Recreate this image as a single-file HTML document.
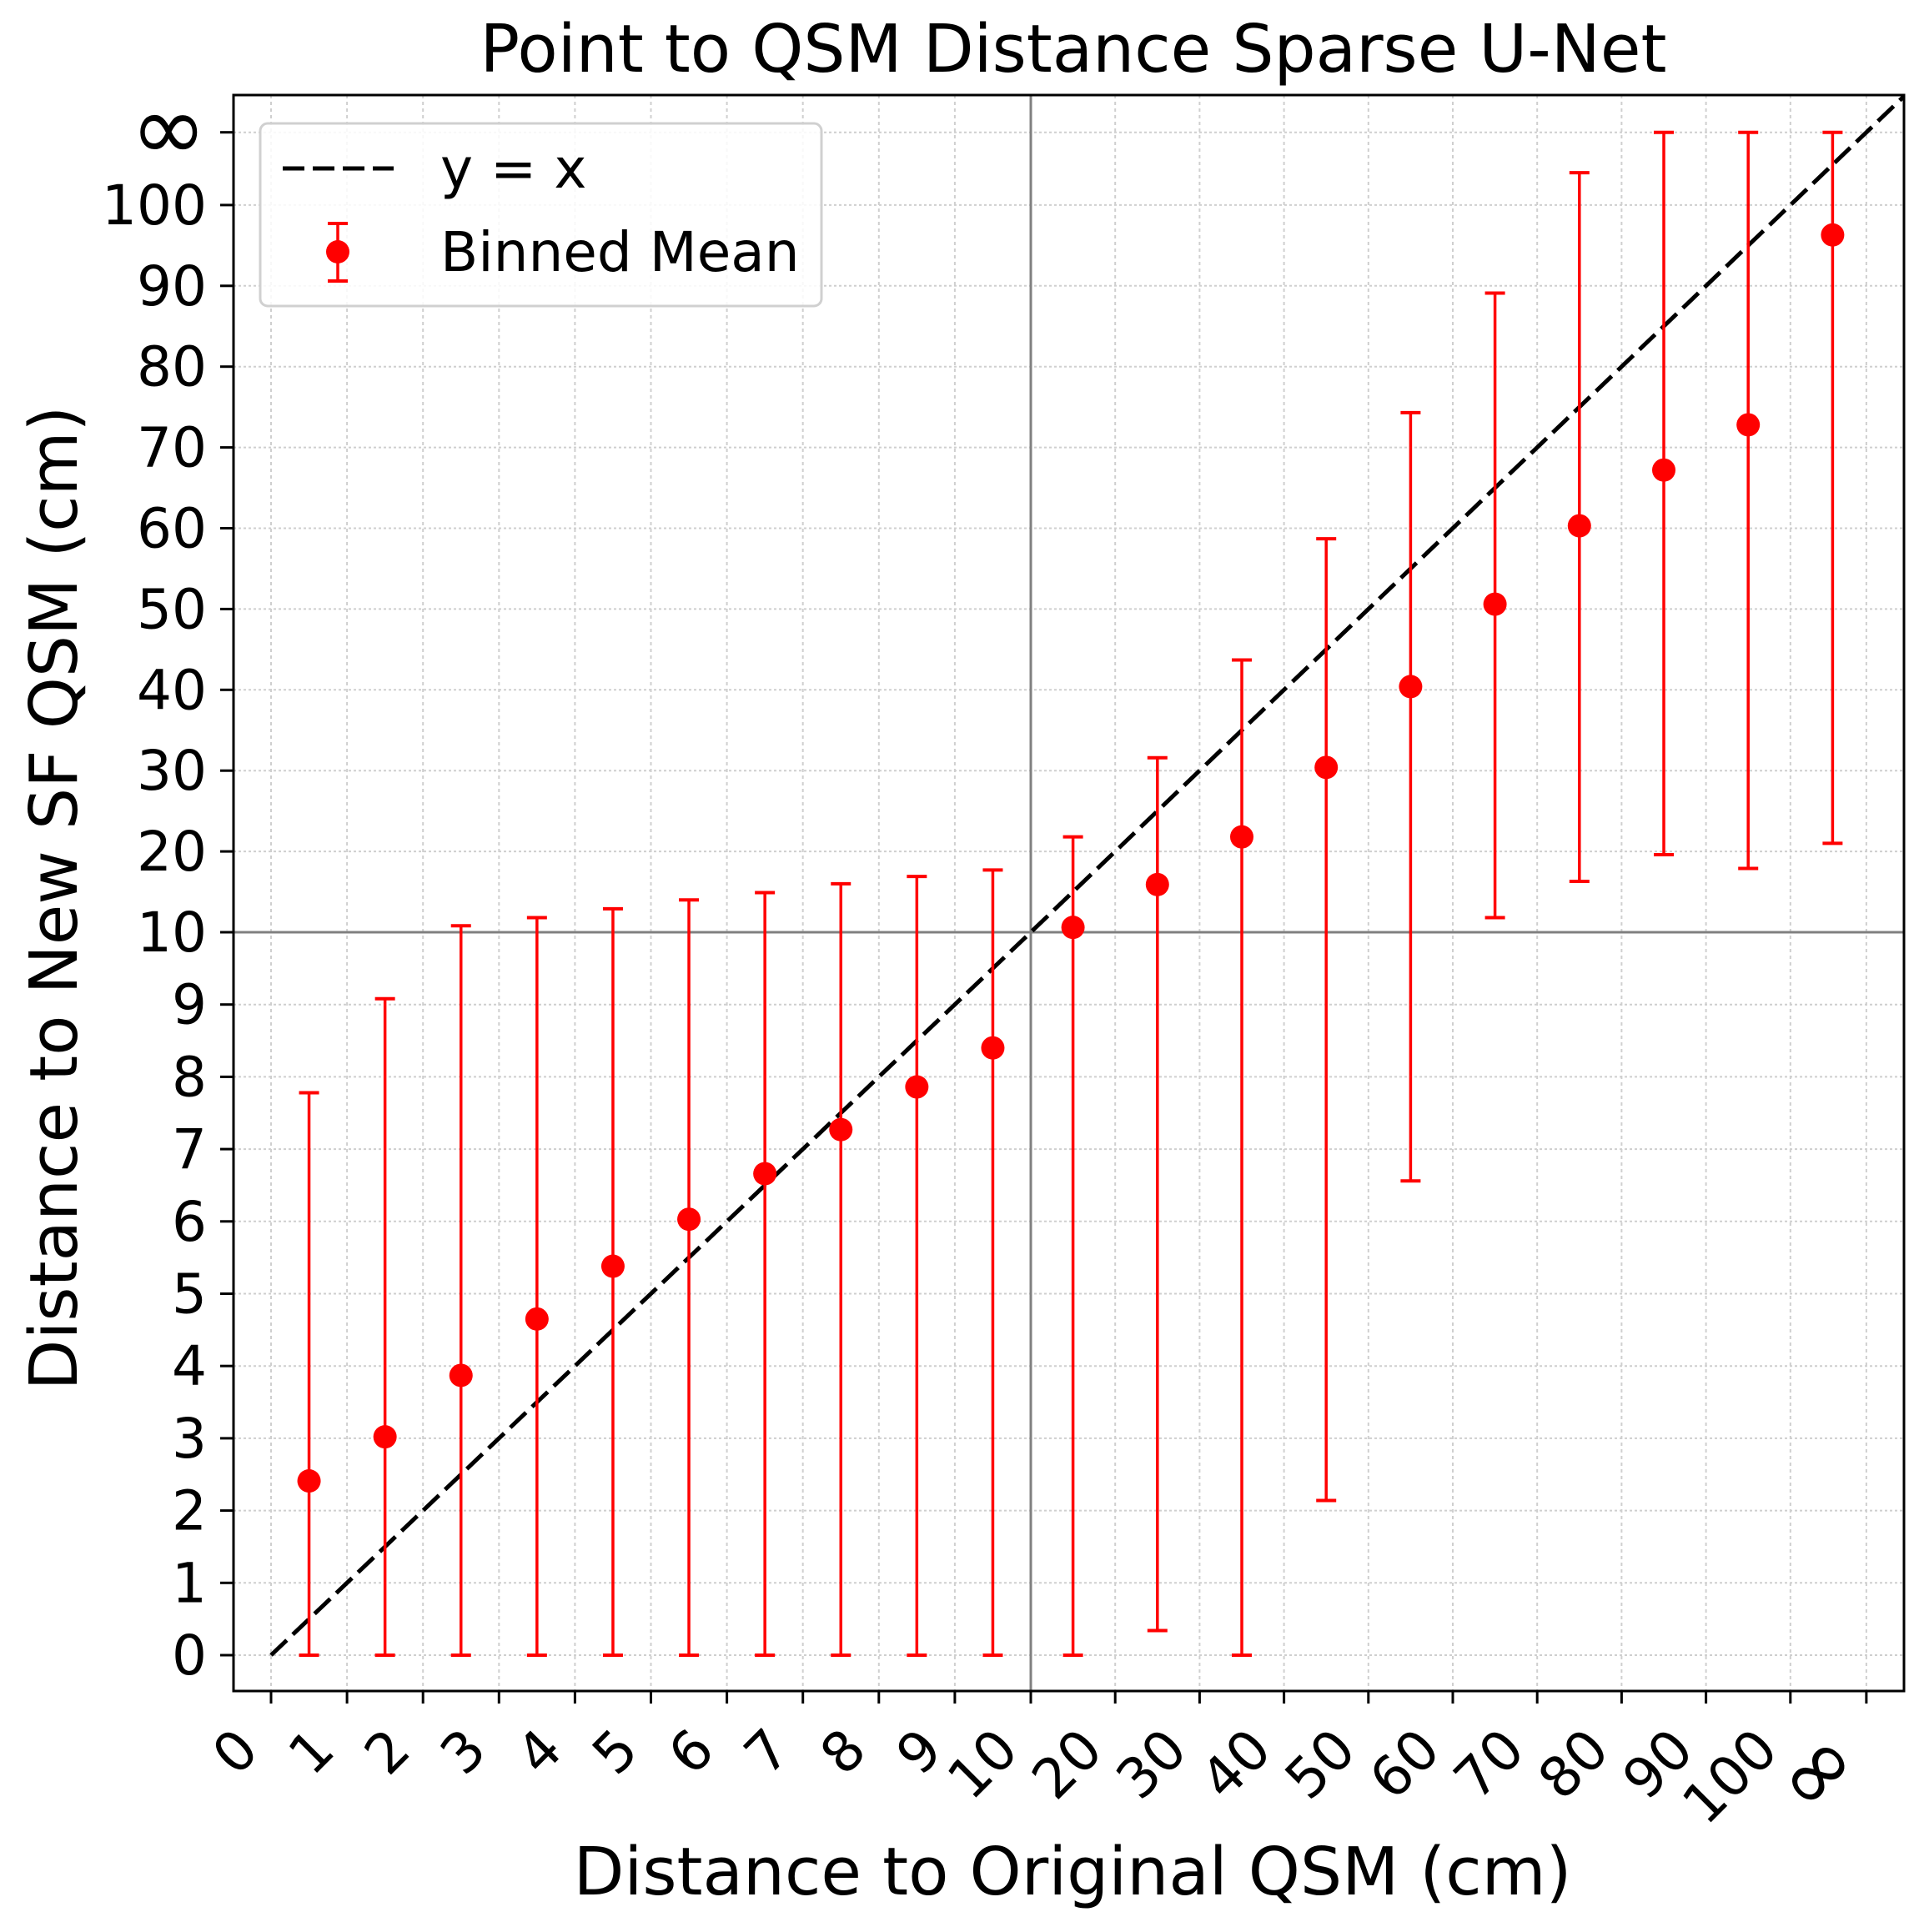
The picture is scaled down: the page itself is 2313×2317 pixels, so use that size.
<!DOCTYPE html>
<html><head><meta charset="utf-8"><style>
html,body{margin:0;padding:0;background:#fff;}
svg{display:block;font-family:"DejaVu Sans","Liberation Sans",sans-serif;}
</style></head><body>
<svg id="chart" width="2313" height="2317" viewBox="0 0 2313 2317" xmlns="http://www.w3.org/2000/svg">
<defs><clipPath id="plotclip"><rect x="280" y="114" width="2003" height="1914"/></clipPath></defs>
<rect width="2313" height="2317" fill="#fff"/>
<g id="grid"></g>
<g id="refs"></g>
<g id="marks" clip-path="url(#plotclip)"></g>
<rect x="280" y="114" width="2003" height="1914" fill="none" stroke="#000" stroke-width="3"/>
<g id="xticks"></g>
<g id="yticks"></g>
<text x="1287" y="86" font-size="79" text-anchor="middle">Point to QSM Distance Sparse U-Net</text>
<text x="1286" y="2272" font-size="79" text-anchor="middle">Distance to Original QSM (cm)</text>
<text x="0" y="0" font-size="79" text-anchor="middle" transform="translate(92,1077) rotate(-90)">Distance to New SF QSM (cm)</text>
<g>
<rect x="312" y="148" width="673" height="219" rx="9" fill="#fff" fill-opacity="0.85" stroke="#d0d0d0" stroke-width="3"/>
<line x1="339" y1="202" x2="472" y2="202" stroke="#000" stroke-width="5" stroke-dasharray="26,10"/>
<text x="528" y="225" font-size="66">y = x</text>
<g>
<line x1="405" y1="268" x2="405" y2="337" stroke="#f00" stroke-width="3.5"/>
<line x1="393" y1="268" x2="417" y2="268" stroke="#f00" stroke-width="4"/>
<line x1="393" y1="337" x2="417" y2="337" stroke="#f00" stroke-width="4"/>
<circle cx="405" cy="302" r="14" fill="#f00"/>
</g>
<text x="528" y="325" font-size="66">Binned Mean</text>
</g>
</svg>
<script>
const xCenters = [0.5,1.5,2.5,3.5,4.5,5.5,6.5,7.5,8.5,9.5,15,25,35,45,55,65,75,85,95,105];
const meanValues = [2.41,3.02,3.87,4.65,5.38,6.03,6.66,7.27,7.86,8.40,10.6,15.9,21.8,30.4,40.4,50.6,60.3,67.2,72.8,96.3];
const upperValues = [7.78,9.08,10.8,11.8,12.9,14.0,14.9,16.0,16.9,17.7,21.8,31.6,43.7,58.7,74.3,89.1,104,109,109,109];
const lowerValues = [0,0,0,0,0,0,0,0,0,0,0,0.34,0,2.14,6.56,11.8,16.3,19.6,17.9,21.0];
const tickValues = [0,1,2,3,4,5,6,7,8,9,10,20,30,40,50,60,70,80,90,100,109];
const tickLabels = ['0','1','2','3','4','5','6','7','8','9','10','20','30','40','50','60','70','80','90','100','∞'];
const identityValues = [0,10,120];

const NS='http://www.w3.org/2000/svg';
function tr(v){return v<=10?v:10+(v-10)/10;}
function X(v){const t=tr(v);return t<=10?325+t*91.1:1236+(t-10)*101.2;}
function Y(v){const t=tr(v);return t<=10?1985-t*86.7:1118-(t-10)*96.9;}
function mk(tag,attrs,parent){const e=document.createElementNS(NS,tag);for(const k in attrs)e.setAttribute(k,attrs[k]);parent.appendChild(e);return e;}

const grid=document.getElementById('grid');
const xt=document.getElementById('xticks');
const yt=document.getElementById('yticks');
tickValues.forEach((v,i)=>{
  const isInf=tickLabels[i]==='∞';
  const fs=isInf?110:66;
  const gx=mk('line',{x1:X(v),x2:X(v),y1:114,y2:2028,stroke:'#cfcfcf','stroke-width':2,'stroke-dasharray':'4,4'},grid);
  
  
  const gy=mk('line',{x1:280,x2:2283,y1:Y(v),y2:Y(v),stroke:'#cfcfcf','stroke-width':2,'stroke-dasharray':'3,3'},grid);
  
  
  const tx=mk('line',{x1:X(v),x2:X(v),y1:2028,y2:2043,stroke:'#000','stroke-width':3},xt);
  
  
  const lx=mk('text',{x:0,y:0,'font-size':fs,'text-anchor':'end',transform:`translate(${X(v)-(isInf?2:12)},${isInf?2118:2102}) rotate(-45)`},xt);
  lx.textContent=tickLabels[i];
  
  
  const ty=mk('line',{x1:264,x2:280,y1:Y(v),y2:Y(v),stroke:'#000','stroke-width':3},yt);
  
  
  const ly=mk('text',{x:248,y:Y(v)+(isInf?fs*0.3:23),'font-size':fs,'text-anchor':'end'},yt);
  ly.textContent=tickLabels[i];
  
  
});

const refs=document.getElementById('refs');
const rv=mk('line',{x1:X(10),x2:X(10),y1:114,y2:2028,stroke:'#808080','stroke-width':3},refs);


const rh=mk('line',{x1:280,x2:2283,y1:Y(10),y2:Y(10),stroke:'#808080','stroke-width':3},refs);



const marks=document.getElementById('marks');
const pts=identityValues.map(v=>X(v)+','+Y(v)).join(' ');
const idl=mk('polyline',{points:pts,fill:'none',stroke:'#000','stroke-width':5,'stroke-dasharray':'26,10'},marks);



xCenters.forEach((xv,i)=>{
  const g=mk('g',{},marks);
  
  
  const x=X(xv),yt_=Y(upperValues[i]),yb=Y(lowerValues[i]);
  mk('line',{x1:x,x2:x,y1:yt_,y2:yb,stroke:'#f00','stroke-width':3.5},g);
  mk('line',{x1:x-12,x2:x+12,y1:yt_,y2:yt_,stroke:'#f00','stroke-width':4},g);
  mk('line',{x1:x-12,x2:x+12,y1:yb,y2:yb,stroke:'#f00','stroke-width':4},g);
  mk('circle',{cx:x,cy:Y(meanValues[i]),r:14,fill:'#f00'},g);
});
</script>
</body></html>
